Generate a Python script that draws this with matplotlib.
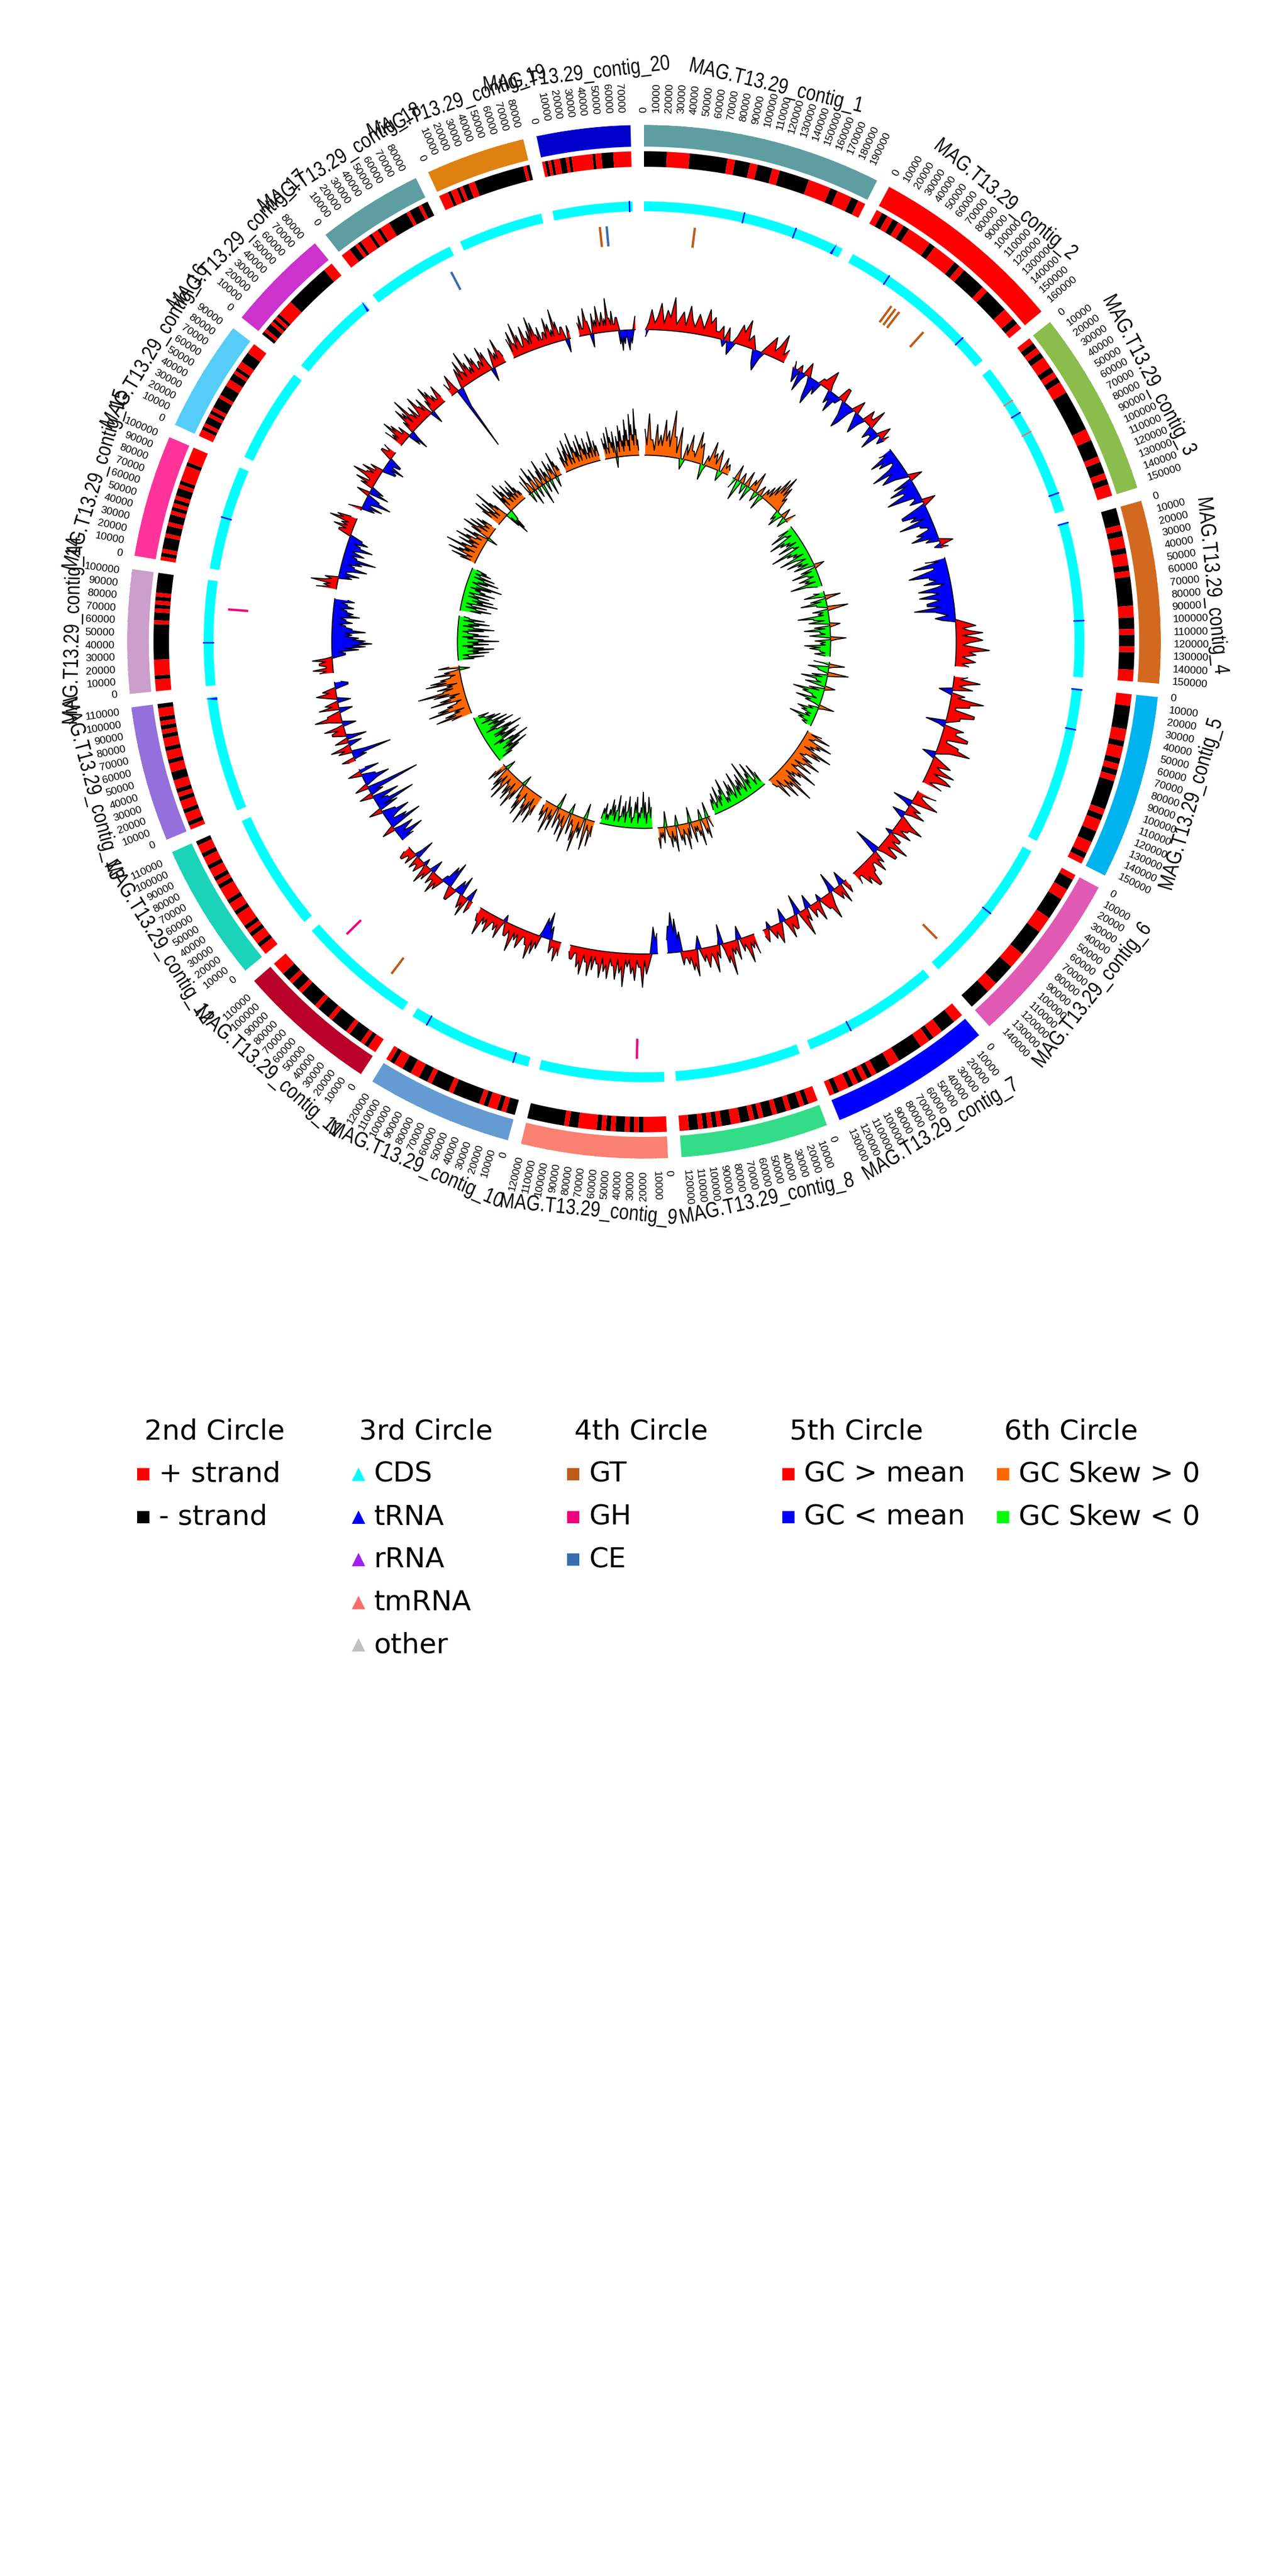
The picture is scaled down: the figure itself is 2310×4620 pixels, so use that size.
import numpy as np
import matplotlib
matplotlib.use('Agg')
import matplotlib.pyplot as plt
from matplotlib.textpath import TextPath
from matplotlib.patches import PathPatch
from matplotlib.transforms import Affine2D
from matplotlib.font_manager import FontProperties

# contigs (clockwise from the top)
contig_names = ['MAG.T13.29_contig_%d' % i for i in range(1, 21)]
contig_len = [199000, 163000, 155000, 152000, 154000, 146000, 135000, 123000, 122000, 122000,
              117000, 115000, 113000, 103000, 102000, 93000, 86000, 88000, 83000, 78000]
contig_colors = ['#5F9EA0', '#FF0000', '#8ABD4B', '#D2691E', '#00B2EE', '#E05AB4', '#0000FF',
                 '#33DD88', '#FA8072', '#649BD2', '#B8002A', '#1AD3B8', '#9370DB', '#CC9ECB',
                 '#FF3399', '#56CDF9', '#CC33CC', '#5F9EA0', '#DF8110', '#0000CC']

# 2nd circle: strand of genes, R = + strand, B = - strand (30 bins per contig)
strand_bins = [
    'BBBRRRBBBBBRBBRBBRBBBBRRRBRRBR',
    'RBRBRBRRRRBRRRRBRBBBBRBBBBRRBR',
    'RBRBRRBRBRRBBBBBBBRRBBBRBBRBRR',
    'BBBRBRRBRRBRBBBBBRRBBRBBRBBBRR',
    'RRBBBBRRBRRBRBRBBBBBRBRRBBRRBR',
    'RBBRRBBBBRRRBBBBBRRRBBBBRRBBBB',
    'RRBBBRRBRRBBBBBRRBBBRBRBRBRRBR',
    'RRBRBBRBBRBBRBRBBRRBBRBRBRBBRR',
    'RRRRRBRBRBBRBRBRRRRBBRBBBBBBBB',
    'BBRBRRBRBBBBBBRBBBBRBBRRBBRRBR',
    'RRBRBBBRBBBBRBBBRBBBBRBBRBBRRR',
    'RRBRRBRBRRRBRRBRRRBRBRRBRRBRRB',
    'RBRRBRRBRBRRBBRRBRRBRRBRBRBRRB',
    'RRRBRRRRBBBBBBBBBRBBRBRBRBBBBB',
    'RBRBBBRBBRBBRBRBRBBRBRRRRBRRRR',
    'RRBRBBRBRBBBRBBBRRBBRBRRBBBRRR',
    'BRBBRBRBRRRRRBBBBBBBBBBBBBBRRR',
    'RRRBBRBRRRBRRBRRRBBBBBBRBBBRBB',
    'RRRBRRBRBBRRBBBBBBBBBBBBBBBBRB',
    'RBRBRRBBRBRRRRRRRBRRBBBBRRRRRR',
]

# 3rd circle: RNA features (contig number, position bp)
trna_pos = [(20, 75000), (1, 98000), (1, 150000), (2, 41000), (2, 134000), (3, 51000),
            (3, 137000), (4, 1000), (4, 97000), (5, 1000), (5, 40000), (6, 72000),
            (7, 92000), (10, 15000), (10, 106000), (14, 42000), (15, 51000)]
trna_arrow_pos = [(1, 192000), (13, 112000), (17, 85000)]
tmrna_pos = [(3, 37000), (3, 72000)]

# 4th circle: CAZy genes
cazy_genes = [(20, 44000, 'GT'), (1, 52000, 'GT'), (2, 60000, 'GT'), (2, 65000, 'GT'),
              (2, 70000, 'GT'), (2, 102000, 'GT'), (6, 126000, 'GT'), (11, 30000, 'GT'),
              (9, 27000, 'GH'), (11, 91000, 'GH'), (14, 76000, 'GH'),
              (20, 51000, 'CE'), (18, 78000, 'CE')]
cazy_colors = {'GT': '#bf5b17', 'GH': '#f0027f', 'CE': '#386cb0'}

# 5th circle: GC content minus mean (relative levels, 48 windows per contig)
gc_vals = [
    [-1, 1, 3, 1, 2, 4, 1, 3, 2, 5, 1, 2, 3, 1, 4, 2, 1, 3, 2, 1, 4, 2, 3, 1, 1, 2, -1, 2, -2, -1, 1, 3, 2, 4, 1, 2, 1, -2, -3, -1, 1, 2, 3, 1, 2, 4, 1, 2],
    [1, -1, -2, 1, -3, -1, 2, 1, -1, -3, -4, -1, -2, 1, 1, 2, 3, 1, -2, -1, -3, -1, -1, 2, 2, -1, -2, -4, -3, -1, 1, 2, -1, -2, -3, -1, 2, 1, 1, 3, -2, -1, -1, -3, 1, 2, -1, 1],
    [-2, -1, -4, -2, -3, -1, -1, -2, -5, -2, -3, -4, -2, -1, 1, 2, -3, -1, -4, -2, -2, -5, -3, -1, -1, -2, 2, 1, -2, -4, -4, -2, -3, -1, -5, -2, -2, -1, -1, -3, -2, -4, -1, -2, 1, 2, -1, 1],
    [-3, -1, -5, -2, -2, -4, -6, -3, -3, -2, -4, -1, -2, -5, -3, -2, -5, -3, -2, -4, -4, -2, -6, -3, -2, -1, -3, -2, 1, 2, 3, 1, 2, 4, 1, 3, 4, 2, 1, 3, 5, 2, 3, 1, 2, 3, 1, 2],
    [2, 1, 4, 2, 1, 3, -2, -1, 2, 1, 5, 3, 3, 1, 1, 4, 4, 2, 2, 1, -3, -1, 3, 2, 2, 4, 4, 1, 1, 3, 3, 5, 2, 1, -2, -1, 1, 2, 3, 1, 2, 4, 1, 3, 4, 2, 1, 3],
    [3, 1, 1, 2, 4, 2, -3, -1, 2, 1, 3, 1, -2, -1, 1, 2, 4, 2, 2, 1, 3, 1, -1, 2, 2, 1, 4, 2, 1, 3, 3, 1, -4, -2, 2, 1, 3, 1, 1, 2, 2, 4, 4, 2, 3, 1, 1, 2],
    [1, 2, -2, -1, 3, 1, 2, 1, -3, -1, 1, 2, 4, 2, 2, 1, -1, 1, 3, 1, 1, 2, -2, -1, 2, 1, 4, 2, -3, -1, 1, 2, 2, 1, 3, 1, -2, -1, 1, 2, 3, 1, 2, 1, -1, 1, 2, 1],
    [3, 1, 2, 1, 4, 2, 1, 2, -2, -1, 3, 1, 2, 1, 5, 2, 3, 1, -3, -1, 2, 1, 4, 2, 1, 2, 3, 1, 2, 1, -2, -1, 4, 2, 3, 1, 2, 1, 1, 2, -3, -2, -5, -3, -6, -4, -4, -2],
    [-3, -2, -4, -2, 1, 2, 3, 1, 5, 2, 2, 1, 4, 2, 3, 1, 2, 1, 5, 2, 3, 1, 4, 2, 2, 1, 4, 2, 3, 1, 4, 2, 2, 1, 3, 1, 4, 2, 2, 1, 4, 2, 3, 1, 1, 2, 2, 1],
    [2, 1, 3, 1, 1, 2, -2, -1, -4, -2, -3, -1, 2, 1, 3, 1, 4, 2, 2, 1, 1, 2, 3, 1, 2, 1, 4, 2, 1, 2, 2, 1, -1, 1, 3, 1, 2, 1, 1, 2, 3, 1, 2, 1, 4, 2, 2, 1],
    [1, 2, -2, -1, 3, 1, 2, 1, -3, -1, -2, -1, 1, 2, 2, 1, -4, -2, -3, -1, -1, 1, 2, 1, 3, 1, 1, 2, -2, -1, 2, 1, 3, 1, -1, 1, 2, 1, 1, 2, -3, -1, 2, 1, 1, 2, 2, 1],
    [-2, -1, -4, -2, -1, -2, -3, -1, 2, 1, -5, -2, -3, -1, -1, -2, -4, -2, -2, -1, 1, 2, -3, -1, -6, -2, -2, -1, -4, -2, 1, 2, -2, -1, -8, -3, 2, 1, -1, -2, -4, -2, -2, -1, 1, 2, -3, -1],
    [1, 2, -2, -1, -6, -2, 2, 1, 3, 1, -1, -2, 2, 1, -3, -1, 1, 2, 2, 1, 3, 1, -2, -1, 1, 2, 4, 2, 2, 1, -1, -2, 3, 1, 2, 1, -2, -1, 1, 2, 3, 1, 2, 1, -1, -2, -2, -1],
    [2, 1, 3, 1, 1, 2, 2, 1, 3, 1, -1, -2, -2, -1, -4, -2, -5, -3, -6, -4, -5, -3, -4, -2, -3, -2, -5, -3, -3, -2, -2, -1, -3, -2, -2, -1, -4, -2, -3, -2, -2, -1, -3, -2, -2, -1, -3, -2],
    [3, 1, 2, 1, 4, 2, 1, 2, -2, -1, -3, -1, -1, -2, -4, -2, -2, -1, -3, -2, -5, -2, -2, -1, -3, -2, -1, -2, -4, -2, -2, -1, -3, -2, -2, -1, 1, 2, 2, 1, 3, 1, 2, 1, 4, 2, 3, 1],
    [2, 1, -2, -1, -3, -1, -1, -2, -4, -2, -2, -1, 1, 2, -3, -1, -2, -1, 2, 1, 3, 1, 1, 2, 4, 2, 2, 1, 3, 1, 1, 2, -1, -2, -2, -1, -3, -1, -1, -2, -2, -1, 1, 2, 2, 1, 1, 2],
    [3, 1, 2, 1, 4, 2, 3, 1, 1, 2, -2, -1, -3, -1, 2, 1, 4, 2, 3, 1, 5, 2, 2, 1, 3, 1, 1, 2, 4, 2, 2, 1, 3, 1, -1, -2, 2, 1, 4, 2, 3, 1, 2, 1, 1, 2, 3, 1],
    [2, 1, 1, 2, 3, 1, -10, -3, -2, -1, 1, 2, 3, 1, 4, 2, 2, 1, 5, 2, 3, 1, 2, 1, 4, 2, 3, 1, 1, 2, 2, 1, 4, 2, 3, 1, -2, -1, 1, 2, 3, 1, 2, 1, 4, 2, 2, 1],
    [3, 1, 4, 2, 2, 1, 5, 2, 3, 1, 1, 2, 4, 2, 2, 1, 3, 1, 5, 2, 4, 2, 2, 1, 3, 1, 1, 2, 2, 1, 4, 2, 3, 1, 2, 1, 5, 2, 3, 1, 1, 2, 2, 1, -1, -2, 2, 1],
    [2, 1, 3, 1, 1, 2, 4, 2, 2, 1, -1, -2, 3, 1, 2, 1, 4, 2, 1, 2, 3, 1, 2, 1, 5, 2, 2, 1, 3, 1, 1, 2, 2, 1, -2, -1, -3, -1, -2, -1, -1, -2, -3, -1, -2, -1, 1, 2],
]

# 6th circle: GC skew (relative levels, 48 windows per contig)
skew_vals = [
    [5, 2, 8, 3, 3, 1, 6, 2, 4, 2, 7, 3, 5, 2, 9, 4, 4, 1, 6, 2, -2, -1, 3, 1, 5, 2, 2, 1, 6, 3, 4, 2, -3, -1, 2, 1, 5, 2, 3, 1, 4, 2, -2, -1, 3, 1, 2, 1],
    [-2, -1, 3, 1, -4, -2, 2, 1, -1, -2, 3, 1, -3, -1, 2, 1, 4, 2, -2, -1, 1, 2, -3, -1, 2, 1, 3, 1, 4, 2, 6, 3, 7, 3, 5, 2, 3, 1, -2, -1, -3, -1, 2, 1, -1, -2, 1, 2],
    [-3, -1, -5, -2, -2, -1, -6, -3, -4, -2, -3, -1, -5, -2, -2, -1, -7, -3, -4, -2, -3, -1, -6, -3, -2, -1, -5, -2, -3, -1, -4, -2, 2, 1, -3, -1, -5, -2, -2, -1, -4, -2, -3, -1, -6, -3, -2, -1],
    [-2, -1, -4, -2, 3, 1, -3, -1, -5, -2, -2, -1, 4, 2, -3, -1, -2, -1, -6, -3, -3, -1, -4, -2, 2, 1, -3, -1, -5, -2, -2, -1, -4, -2, 3, 1, -3, -1, -2, -1, -5, -2, -4, -2, -2, -1, -3, -1],
    [-3, -1, 3, 1, -4, -2, -2, -1, 4, 2, -3, -1, -5, -2, -2, -1, -4, -2, 2, 1, -3, -1, -6, -3, -4, -2, -2, -1, -5, -2, -3, -1, 3, 1, -2, -1, -4, -2, -3, -1, -2, -1, -5, -2, -3, -1, -2, -1],
    [3, 1, 5, 2, 2, 1, 6, 3, 4, 2, 3, 1, 7, 3, 5, 2, 2, 1, 4, 2, 6, 3, 3, 1, 5, 2, 2, 1, 7, 3, 4, 2, 3, 1, 5, 2, 8, 3, 4, 2, 6, 3, 3, 1, 5, 2, 2, 1],
    [-3, -1, -5, -2, -2, -1, -6, -3, -4, -2, -3, -1, -7, -3, -2, -1, -5, -2, -4, -2, -3, -1, -6, -3, -2, -1, -4, -2, -5, -2, -3, -1, -2, -1, -6, -3, -4, -2, -3, -1, -5, -2, -2, -1, -4, -2, -3, -1],
    [2, 1, -3, -1, 4, 2, 3, 1, -2, -1, 5, 2, 3, 1, 2, 1, 4, 2, -3, -1, 3, 1, 5, 2, 2, 1, 4, 2, 3, 1, -2, -1, 5, 2, 3, 1, 4, 2, 2, 1, -3, -1, 3, 1, 2, 1, 4, 2],
    [-4, -2, -6, -3, -3, -1, -5, -2, -7, -3, -4, -2, -3, -1, -6, -3, -5, -2, -2, -1, -4, -2, -6, -3, -3, -1, -5, -2, -4, -2, -2, -1, -6, -3, -3, -1, -4, -2, -5, -2, -3, -1, -2, -1, -4, -2, -3, -1],
    [3, 1, 5, 2, 2, 1, 6, 3, -3, -1, 4, 2, 3, 1, 7, 3, 5, 2, 2, 1, 4, 2, -2, -1, 6, 3, 3, 1, 5, 2, 2, 1, 4, 2, -3, -1, 5, 2, 3, 1, 6, 3, 2, 1, 4, 2, 3, 1],
    [4, 2, 6, 3, 3, 1, 5, 2, 7, 3, 4, 2, 2, 1, 6, 3, 5, 2, 3, 1, -2, -1, 4, 2, 6, 3, 3, 1, 5, 2, 4, 2, 2, 1, 6, 3, 3, 1, 5, 2, 4, 2, -2, -1, 3, 1, 4, 2],
    [-3, -1, -5, -2, -7, -3, -4, -2, -6, -3, -8, -4, -5, -2, -3, -1, -6, -3, -7, -3, -4, -2, -5, -2, -8, -4, -6, -3, -3, -1, -5, -2, -7, -3, -4, -2, -6, -3, -3, -1, -5, -2, -4, -2, -2, -1, -3, -1],
    [4, 2, 7, 3, 5, 2, 3, 1, 8, 4, 6, 3, 4, 2, 2, 1, 7, 3, 5, 2, 3, 1, 6, 3, 9, 4, 4, 2, 5, 2, 3, 1, 7, 3, 6, 3, 4, 2, 2, 1, 5, 2, 3, 1, -2, -1, 4, 2],
    [-3, -1, -5, -2, -2, -1, -6, -3, -4, -2, -7, -3, -5, -2, -3, -1, -6, -3, -4, -2, -8, -4, -5, -2, -3, -1, -6, -3, -4, -2, -2, -1, -5, -2, -7, -3, -3, -1, -4, -2, -6, -3, -3, -1, -5, -2, -2, -1],
    [-4, -2, -6, -3, -3, -1, -5, -2, -2, -1, -7, -3, -4, -2, -6, -3, -3, -1, -5, -2, -2, -1, -6, -3, -4, -2, -3, -1, -5, -2, -7, -3, -2, -1, -4, -2, -6, -3, -3, -1, -5, -2, -2, -1, -4, -2, -3, -1],
    [3, 1, 5, 2, 2, 1, 6, 3, 4, 2, 3, 1, 7, 3, 4, 2, 2, 1, 5, 2, 3, 1, 6, 3, 4, 2, 2, 1, 5, 2, 3, 1, -2, -1, 4, 2, 6, 3, 3, 1, 5, 2, 2, 1, 4, 2, 3, 1],
    [4, 2, 6, 3, 3, 1, 5, 2, 2, 1, 7, 3, 4, 2, 3, 1, -3, -1, -5, -2, -4, -2, -2, -1, 5, 2, 3, 1, 6, 3, 4, 2, 2, 1, 5, 2, 3, 1, 4, 2, 2, 1, 5, 2, 3, 1, 2, 1],
    [3, 1, -2, -1, 4, 2, 2, 1, -3, -1, 5, 2, 3, 1, -2, -1, 4, 2, 2, 1, -4, -2, 3, 1, 5, 2, -2, -1, 3, 1, 2, 1, -3, -1, 4, 2, 2, 1, 3, 1, -2, -1, 5, 2, 3, 1, 2, 1],
    [3, 1, 5, 2, 2, 1, 4, 2, 6, 3, 3, 1, 5, 2, 2, 1, 7, 3, 4, 2, 3, 1, 5, 2, 2, 1, 6, 3, 4, 2, 3, 1, 5, 2, 2, 1, 4, 2, 3, 1, 6, 3, 2, 1, 4, 2, 3, 1],
    [4, 2, 3, 1, 5, 2, 2, 1, 6, 3, 4, 2, 3, 1, 5, 2, -2, -1, 4, 2, 3, 1, 6, 3, 5, 2, 3, 1, 4, 2, 7, 3, 5, 2, 3, 1, 8, 4, 6, 3, 4, 2, 9, 4, 5, 2, 3, 1],
]

# legend
legend_titles = ['2nd Circle', '3rd Circle', '4th Circle', '5th Circle', '6th Circle']
legend_items = [
    [('+ strand', '#FF0000', 's'), ('- strand', '#000000', 's')],
    [('CDS', '#00FFFF', '^'), ('tRNA', '#0000FF', '^'), ('rRNA', '#A020F0', '^'),
     ('tmRNA', '#FF6B6B', '^'), ('other', '#C0C0C0', '^')],
    [('GT', '#bf5b17', 's'), ('GH', '#f0027f', 's'), ('CE', '#386cb0', 's')],
    [('GC > mean', '#FF0000', 's'), ('GC < mean', '#0000FF', 's')],
    [('GC Skew > 0', '#FF6600', 's'), ('GC Skew < 0', '#00FF00', 's')],
]

tick_font = ['Liberation Sans', 'DejaVu Sans']
name_prop = FontProperties(family=['Liberation Sans', 'DejaVu Sans'])

space = 1.5
n = len(contig_len)
dpb = (360.0 - space * n) / sum(contig_len)
starts = []
s = 0.0
for L in contig_len:
    starts.append(s)
    s += L * dpb + space


def deg(i, pos):
    return starts[i] + pos * dpb


def rad(i, pos):
    return np.radians(deg(i, pos))


W, H = 2310, 4620
fig = plt.figure(figsize=(7.7, 15.4), dpi=300)
cx, cy, R = 1155, 1151, 927
ax = fig.add_axes([(cx - R) / W, (H - cy - R) / H, 2 * R / W, 2 * R / H], projection='polar')
ax.set_theta_zero_location('N')
ax.set_theta_direction(-1)
ax.set_ylim(0, 100)
ax.axis('off')

# overlay in pixel units (y up) for the legend and the narrow contig names
ov = fig.add_axes([0, 0, 1, 1])
ov.set_xlim(0, W)
ov.set_ylim(0, H)
ov.axis('off')

for i, L in enumerate(contig_len):
    t0 = rad(i, 0)
    tw = np.radians(L * dpb)
    # outer sector bar
    ax.bar(t0, 4.2, width=tw, bottom=95.8, align='edge', color=contig_colors[i], lw=0)

    # ticks + tick labels
    for p in range(0, L + 1, 10000):
        d = deg(i, p)
        t = np.radians(d)
        ax.plot([t, t], [100, 101.9], color='black', lw=0.5, solid_capstyle='butt')
        if d <= 180:
            rot, ha = 90 - d, 'left'
        else:
            rot, ha = 270 - d, 'right'
        ax.text(t, 102.4, str(p), rotation=rot, ha=ha, va='center',
                rotation_mode='anchor', fontsize=4.6, family=tick_font)

    # contig name, condensed glyphs
    d = deg(i, L / 2)
    dd = d - 360 if d >= 270 else d
    tp = TextPath((0, 0), contig_names[i], size=39, prop=name_prop)
    bb = tp.get_extents()
    if 90 <= dd <= 270:
        rot, dy = 180 - dd, -bb.y1
    else:
        rot, dy = -dd, -bb.y0
    r_px = 1006
    px = cx + r_px * np.sin(np.radians(d))
    py = (H - cy) + r_px * np.cos(np.radians(d))
    tr = (Affine2D().translate(-(bb.x0 + bb.x1) / 2, dy).scale(0.82, 1.0)
          .rotate_deg(rot).translate(px, py))
    ov.add_patch(PathPatch(tr.transform_path(tp), facecolor='#111111', lw=0))

    # strand track, merge runs of equal strand
    bins = strand_bins[i]
    nb = len(bins)
    j = 0
    while j < nb:
        k = j
        while k < nb and bins[k] == bins[j]:
            k += 1
        col = '#FF0000' if bins[j] == 'R' else '#000000'
        ax.bar(rad(i, L * j / nb), 3.0, width=np.radians(L * (k - j) / nb * dpb),
               bottom=91.9, align='edge', color=col, lw=0)
        j = k

    # CDS band
    ax.bar(t0, 1.9, width=tw, bottom=83.3, align='edge', color='#00FFFF', lw=0)

    # GC content
    v = np.array(gc_vals[i], dtype=float)
    x = rad(i, (np.arange(len(v)) + 0.5) / len(v) * L)
    base, sc = 60.4, 1.29
    pos = np.where(v > 0, v, 0) * sc + base
    neg = np.where(v < 0, v, 0) * sc + base
    ax.fill_between(x, base, pos, color='#FF0000', lw=0)
    ax.fill_between(x, base, neg, color='#0000FF', lw=0)
    ax.plot(x, pos, color='black', lw=0.45)
    ax.plot(x, neg, color='black', lw=0.45)

    # GC skew
    v = np.array(skew_vals[i], dtype=float)
    x = rad(i, (np.arange(len(v)) + 0.5) / len(v) * L)
    base, sc = 36.1, 1.0
    pos = np.where(v > 0, v, 0) * sc + base
    neg = np.where(v < 0, v, 0) * sc + base
    ax.fill_between(x, base, pos, color='#FF6600', lw=0)
    ax.fill_between(x, base, neg, color='#00FF00', lw=0)
    ax.plot(x, pos, color='black', lw=0.45)
    ax.plot(x, neg, color='black', lw=0.45)

for c, p in trna_pos:
    t = rad(c - 1, p)
    ax.plot([t, t], [83.3, 85.2], color='#0000FF', lw=0.6)
for c, p in tmrna_pos:
    t = rad(c - 1, p)
    ax.plot([t, t], [83.3, 85.2], color='#FF6B6B', lw=0.6)
for c, p in trna_arrow_pos:
    ta = rad(c - 1, p - 2500)
    tb = rad(c - 1, p)
    ax.fill([ta, tb, tb], [83.3, 83.3, 85.6], color='#0000FF', lw=0)

for c, p, kind in cazy_genes:
    t = rad(c - 1, p)
    ax.plot([t, t], [76.8, 80.7], color=cazy_colors[kind], lw=1.0, solid_capstyle='butt')

# legend, pixel coordinates from the top edge
col_x = [257 + 385.5 * k for k in range(5)]
for k, title in enumerate(legend_titles):
    mx = col_x[k]
    fig.text((mx + 2) / W, 1 - 2581 / H, title, fontsize=12, va='baseline', ha='left')
    for r, (lab, col, mk) in enumerate(legend_items[k]):
        yb = 2658 + 76.6 * r
        ms = 5.3 if mk == 's' else 5.6
        ov.plot([mx], [H - (yb - 14)], marker=mk, ms=ms, color=col, mew=0, ls='none')
        fig.text((mx + 28) / W, 1 - yb / H, lab, fontsize=12, va='baseline', ha='left')

fig.savefig('out.png', dpi=300)
